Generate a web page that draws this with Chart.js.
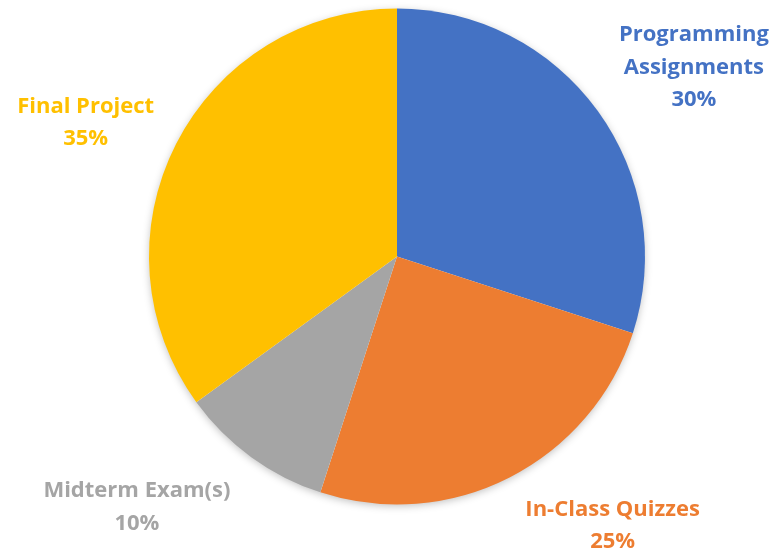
<!DOCTYPE html>
<html>
<head>
<meta charset="utf-8">
<script src="https://cdn.jsdelivr.net/npm/chart.js@4"></script>
<style>
  html, body { margin: 0; padding: 0; background: #ffffff; }
  #wrap { width: 773px; height: 553px; position: relative; }
</style>
</head>
<body>
<div id="wrap"><canvas id="c" width="773" height="553"></canvas></div>
<script>
const categories = [['Programming', 'Assignments'], ['In-Class Quizzes'], ['Midterm Exam(s)'], ['Final Project']];
const percentages = [30, 25, 10, 35];
const percentLabels = ['30%', '25%', '10%', '35%'];
const sliceColors = ['#4472C4', '#ED7D31', '#A5A5A5', '#FFC000'];

// label placement tweaks (relative to a radial anchor at 1.4 x radius)
const labelNudge = [[16, 15], [58, -40], [-56, -30], [-2, 24]];

const shadowPlugin = {
  id: 'pieShadow',
  beforeDatasetsDraw(chart) {
    const arc = chart.getDatasetMeta(0).data[0];
    if (!arc) return;
    const ctx = chart.ctx;
    ctx.save();
    ctx.shadowColor = 'rgba(0,0,0,0.28)';
    ctx.shadowBlur = 9;
    ctx.shadowOffsetX = 0;
    ctx.shadowOffsetY = 2;
    ctx.fillStyle = '#ffffff';
    ctx.beginPath();
    ctx.arc(arc.x, arc.y, arc.outerRadius - 1, 0, Math.PI * 2);
    ctx.fill();
    ctx.restore();
  }
};

const labelPlugin = {
  id: 'outerLabels',
  afterDatasetsDraw(chart) {
    const ctx = chart.ctx;
    const meta = chart.getDatasetMeta(0);
    ctx.save();
    ctx.font = 'bold 22px "Open Sans", "Liberation Sans", sans-serif';
    ctx.textAlign = 'center';
    ctx.textBaseline = 'middle';
    const lh = 32.5;
    meta.data.forEach((arc, i) => {
      const mid = (arc.startAngle + arc.endAngle) / 2;
      const d = arc.outerRadius * 1.4;
      const cx = arc.x + Math.cos(mid) * d + labelNudge[i][0];
      const cy = arc.y + Math.sin(mid) * d + labelNudge[i][1];
      const lines = categories[i].concat([percentLabels[i]]);
      const top = cy - (lines.length - 1) * lh / 2;
      ctx.fillStyle = sliceColors[i];
      lines.forEach((t, k) => ctx.fillText(t, cx, top + k * lh));
    });
    ctx.restore();
  }
};

new Chart(document.getElementById('c'), {
  type: 'pie',
  data: {
    labels: categories.map(c => c.join(' ')),
    datasets: [{
      data: percentages,
      backgroundColor: sliceColors,
      borderWidth: 0
    }]
  },
  options: {
    responsive: false,
    animation: false,
    rotation: 0,
    layout: { padding: { top: 8, bottom: 48, left: 149, right: 128 } },
    plugins: {
      legend: { display: false },
      tooltip: { enabled: false }
    }
  },
  plugins: [shadowPlugin, labelPlugin]
});
</script>
</body>
</html>
